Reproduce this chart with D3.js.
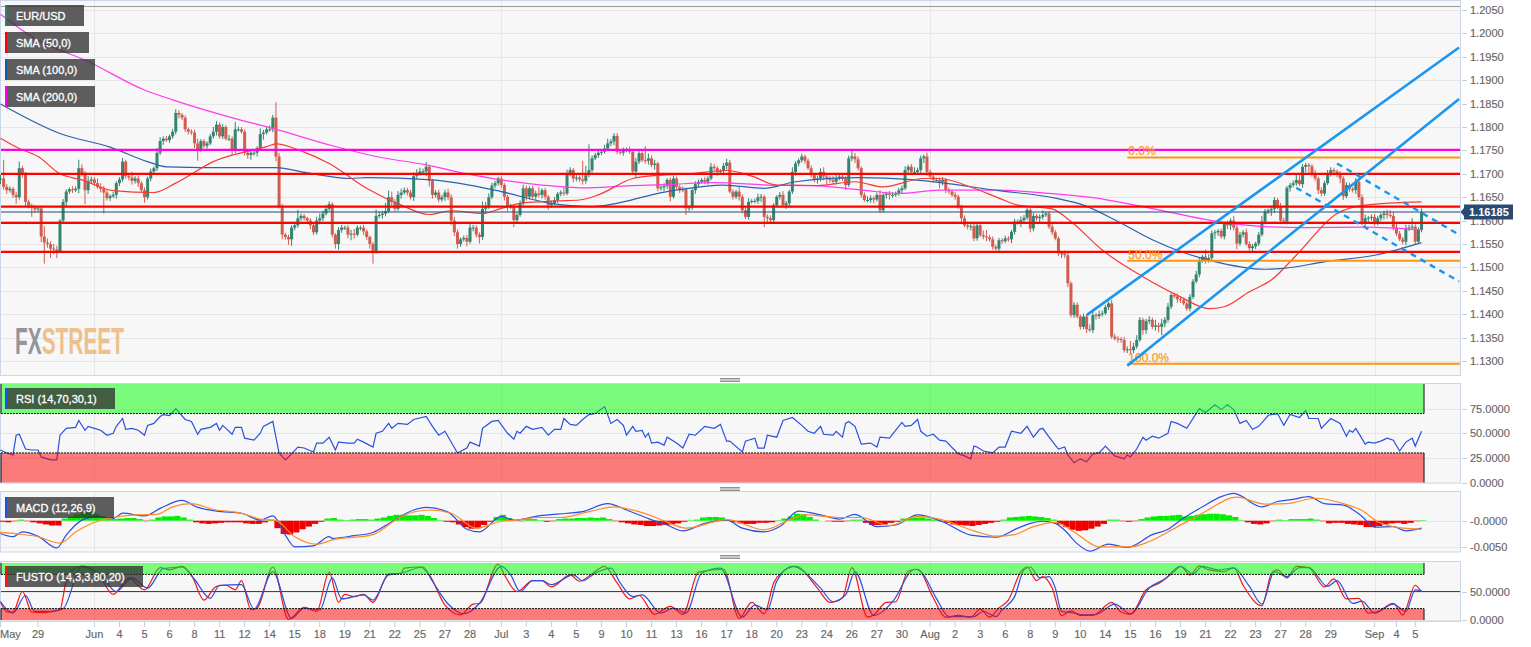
<!DOCTYPE html>
<html><head><meta charset="utf-8">
<style>html,body{margin:0;padding:0;background:#fff;overflow:hidden}svg{display:block}text{font-family:"Liberation Sans",Arial,sans-serif}</style>
<script src="https://cdn.jsdelivr.net/npm/d3@7"></script></head><body><svg id="c" width="1531" height="647"></svg>
<script>
// Closes in pips above 1.1000, one per 4-hour bar
const closePips=[
690,672,665,668,655,650,712,700,640,632,
628,624,626,566,553,550,540,538,535,600,
640,662,667,665,668,712,700,665,685,688,
680,672,668,660,648,652,655,680,688,726,
695,692,685,690,680,665,650,690,705,712,
745,770,775,772,780,790,830,826,820,795,
790,788,765,750,770,760,765,780,790,805,
780,800,775,775,750,795,795,790,745,740,
745,745,755,785,788,795,795,820,737,630,
570,565,560,585,590,605,610,605,600,590,
575,600,605,615,625,635,570,550,580,585,
585,570,572,570,585,585,577,565,550,535,
610,612,615,620,650,640,625,655,660,665,
660,650,695,700,705,705,715,685,655,660,
645,650,660,650,600,575,550,560,563,555,
585,585,570,565,625,630,650,675,680,690,
676,651,630,630,601,612,637,669,651,669,
651,658,655,665,651,633,637,644,657,660,
658,701,708,690,692,688,685,697,708,733,
740,745,747,754,765,769,781,747,745,751,
752,747,705,726,744,729,728,733,719,722,
669,671,674,687,651,690,672,665,667,626,
628,665,678,683,687,683,690,715,712,704,
706,717,724,662,651,662,651,622,608,640,
642,642,650,651,608,605,601,633,651,655,
633,637,662,704,722,729,737,728,712,697,
687,690,704,694,690,687,683,690,694,690,
676,733,737,731,712,655,644,644,648,645,
655,622,655,658,655,655,658,665,669,708,
715,704,704,708,733,737,704,694,687,687,
683,687,665,662,655,651,630,605,590,587,
588,562,590,569,566,564,560,544,540,
558,556,562,560,576,598,596,601,606,623,583,
610,605,608,612,615,587,575,562,530,530,
526,466,398,420,395,373,395,368,366,398,
396,400,402,415,423,352,348,347,345,323,
325,323,331,345,388,366,385,388,373,376,
373,380,388,416,441,438,432,430,423,412,
437,470,485,515,523,516,520,573,575,578,
566,594,590,600,585,551,570,575,550,541,
545,551,570,598,619,622,625,644,630,600,
598,670,676,680,687,678,715,719,716,700,
690,665,658,680,700,708,705,698,690,652,
676,668,665,683,650,594,605,606,608,594,
605,612,615,612,610,585,572,560,555,583,
585,587,555,580,618];
const wickUp=[
8,40,6,5,4,6,14,5,4,5, 4,5,3,4,22,9,6,10,8,3, 6,5,4,6,5,18,8,6,10,6, 5,10,8,6,5,4,6,4,5,8,
4,6,12,5,6,5,6,4,6,4, 10,8,5,6,4,6,8,6,4,5, 4,5,6,10,4,4,4,5,10,8, 5,6,4,8,5,16,6,5,4,3,
5,6,4,12,6,5,8,6,33,8, 6,4,5,5,6,18,5,4,3,5, 6,8,10,6,8,6,4,3,6,6, 4,6,8,10,5,4,6,4,3,4,
14,8,6,18,14,12,6,8,8,6, 5,6,8,10,8,6,10,4,4,5, 6,5,6,8,6,8,6,4,5,6, 8,6,5,5,16,10,8,6,5,4,
5,4,4,6,4,5,6,8,6,4, 5,6,14,4,5,4,6,6,4,5, 12,8,6,4,5,4,40,20,55,6, 5,6,4,8,10,5,6,6,4,5,
4,6,5,8,6,4,30,10,6,8, 4,6,6,4,5,6,4,5,6,4, 5,4,6,5,4,6,5,8,6,5, 4,6,8,6,5,4,10,5,6,8,
4,5,8,6,4,5,6,4,3,6, 8,5,4,10,5,4,6,4,5,6, 4,6,8,10,5,6,8,10,6,4, 5,6,14,8,6,4,5,8,6,4,
5,10,6,4,5,6,4,5,6,8, 4,6,10,5,6,4,8,5,4,5, 5,6,4,5,4,6,5,4,6,8, 5,6,4,5,10,14,5,6,4,5,
4,6,5,4,6,5,8,6,4,5, 6,4,5,10,4,5,6,5,4, 4,6,5,4,6,5,4,6,4,10,12,
5,8,6,5,4,8,6,5,4,6, 6,18,8,10,6,4,5,8,5,12, 6,10,6,8,4,5,6,4,5,4, 6,5,8,6,4,15,8,6,5,4,
5,4,6,5,10,8,6,5,8,6, 5,4,6,12,6,4,5,6,4,8, 6,4,5,6,14,10,6,5,4,5, 8,4,6,5,8,6,5,4,8,5,
6,5,4,8,5,6,8,4,5,6, 5,4,6,8,10,8,12,6,5,8, 6,18,5,6,8,12,10,6,5,4, 5,6,4,5,8,10,5,4,5,6,
10,8,4,5,6,4,10,5,4,6, 4,5,6,10,5,4,5,6,8,6, 5,8,6,4,8,5,4,6,5,18];
const wickDown=[
12,6,8,5,6,14,5,8,10,6, 20,8,6,12,45,8,20,10,15,4, 6,8,5,6,4,10,6,30,8,6, 5,4,8,45,5,6,4,8,6,5,
5,6,8,6,8,6,12,5,6,4, 6,5,8,4,6,5,6,8,5,6, 6,5,10,22,4,5,6,4,5,8, 5,6,4,5,10,6,5,4,6,8,
10,6,8,5,12,4,5,6,10,4, 10,6,12,14,6,5,6,5,4,8, 6,5,8,6,4,5,6,10,12,6, 5,8,12,8,4,6,8,6,10,27,
6,5,8,6,4,10,6,5,8,4, 6,5,8,6,4,5,10,12,8,6, 6,5,8,6,10,8,10,6,5,10, 5,8,6,14,6,8,5,4,6,5,
6,8,10,5,15,6,4,5,8,6, 4,6,5,8,6,10,6,4,6,5, 5,4,6,8,6,5,8,6,4,5, 4,6,5,4,5,6,8,5,4,6,
5,4,6,12,5,4,6,8,5,10, 6,5,8,6,10,4,5,6,4,14, 6,5,8,6,4,5,6,4,5,8, 6,5,8,4,6,5,8,6,5,6,
4,5,6,10,22,10,6,5,4,6, 4,8,6,5,8,6,5,6,4,5, 5,8,6,8,14,6,5,6,4,5, 10,4,6,8,5,6,4,5,6,8,
4,6,5,8,10,6,4,5,8,4, 6,5,4,5,6,10,8,5,6,4, 14,8,6,5,4,6,5,8,4,6, 8,6,5,4,6,8,5,6,4,5,
6,4,5,8,6,5,10,5,4,8, 6,5,8,6,4,5,6,4,6, 10,6,8,5,6,4,6,5,8,4,6,
8,6,5,4,6,5,4,8,6,5, 6,8,6,5,4,10,8,6,5,8, 12,18,8,6,5,4,8,6,4,5, 6,5,4,6,5,8,6,5,12,8,
5,6,8,10,6,12,5,6,4,5, 8,6,5,4,6,5,12,8,6,5, 4,6,8,5,6,4,8,12,18,6, 5,8,6,5,4,6,8,5,10,8,
4,6,5,8,6,4,6,8,6,5, 4,6,10,8,4,6,5,4,6,8, 5,5,6,4,5,6,5,4,6,8, 5,6,4,8,6,5,4,8,6,10,
5,4,6,8,5,4,6,10,5,4, 6,8,6,5,4,8,5,6,8,10, 14,6,5,8,5,6,5,6,12,5];
const priceTicks=[1.13,1.135,1.14,1.145,1.15,1.155,1.16,1.165,1.17,1.175,1.18,1.185,1.19,1.195,1.2,1.205];
const dateLabels=["May","29","Jun","4","5","6","8","11","12","14","15","18","19","21","22","25","27","28","Jul","3","4","5","9","10","11","13","16","17","18","20","23","24","26","27","30","Aug","2","3","6","8","9","10","14","15","16","19","21","22","23","27","28","29","Sep","4","5"];
const dateBars=[0,12,30,38,46,54,62,70,78,86,94,102,110,118,126,134,142,150,160,168,176,184,192,200,208,216,224,232,240,248,256,264,272,280,288,297,305,313,321,329,337,345,353,361,369,377,385,393,401,409,417,425,439,446,452];
const monthBars=[30,160,297,439];
const supportLevels=[1.17,1.163,1.1595,1.1533];
const magentaLevel=1.1751;
const currentPrice=1.16185;
const fibLabels=["0.0%","50.0%","100.0%"];
const fibLevels=[1.1735,1.1514,1.1294];
const fibStartBar=360;
// Moving averages: bar index and pips above 1.1000
const sma200Bars=[0,11,28,46,55,75,87,106,120,136,149,160,173,186,200,213,228,245,261,277,287,300,319,335,353,370,387,404,417,436,454];
const sma200=[1041,989,940,879,858,818,797,760,737,719,700,687,676,670,674,677,681,676,674,664,658,665,665,658,645,623,600,587,585,586,580];
const sma100Bars=[0,19,35,47,53,75,88,98,112,117,138,160,175,189,213,231,244,254,274,292,319,337,346,357,368,377,387,404,410,423,439,454];
const sma100=[849,786,757,726,715,713,713,702,690,692,687,662,638,630,662,676,669,683,692,687,664,648,633,598,559,534,514,496,498,512,526,553];
const sma50Bars=[0,6,12,19,26,36,49,56,68,85,88,96,105,117,128,137,144,154,160,166,178,185,191,202,207,220,232,240,248,261,273,282,295,300,311,319,325,336,342,352,365,377,386,391,399,406,414,427,436,454];
const sma50=[776,754,737,700,687,664,660,680,726,758,764,749,722,669,633,613,621,615,626,637,642,644,655,690,695,700,707,695,676,675,683,672,690,690,669,648,633,625,598,537,480,437,412,416,448,473,526,615,633,640];
// Trend channels: [bar, price] anchors
const solidLines=[[[347,1.1398],[466,1.1970]],[[360,1.1290],[466,1.1860]]];
const dashedLines=[[[427,1.1722],[466,1.1570]],[[414,1.1670],[466,1.1470]]];
// RSI
const rsiBars=[0,2,4,5,6,8,10,12,13,16,18,19,21,24,25,27,28,30,32,34,36,37,39,40,42,44,46,47,49,51,52,54,56,59,61,63,64,67,69,70,71,74,75,77,78,81,83,84,87,89,91,93,95,97,100,101,103,105,107,108,111,113,114,116,119,120,122,124,125,127,130,132,136,138,140,142,146,149,150,153,154,157,159,162,164,165,166,168,170,173,175,177,179,180,182,184,186,188,190,193,195,197,199,200,202,203,205,206,207,208,210,212,213,216,218,220,222,225,228,230,232,233,237,238,241,242,244,245,248,250,253,256,258,260,262,263,266,267,269,270,271,273,275,278,280,281,284,288,289,291,293,294,296,298,300,302,306,308,310,311,312,314,317,319,321,323,326,328,330,332,333,335,338,340,341,343,345,347,349,351,353,356,359,360,361,363,365,366,368,370,373,374,376,379,383,385,388,390,392,394,396,398,400,402,405,406,408,410,412,415,417,418,421,422,425,428,430,431,432,433,436,437,439,441,443,445,447,449,451,452,454];
const rsiValues=[33,30,28,48,49,34,33,33,26,23,23,48,55,56,63,53,57,55,53,48,50,57,65,54,55,53,48,58,60,67,69,68,75,64,62,49,54,56,60,53,58,49,56,56,45,43,50,57,62,30,23,29,36,35,31,40,40,46,33,41,40,40,44,41,36,50,52,60,55,60,59,64,67,57,48,52,30,35,41,37,55,62,63,50,44,52,50,57,54,56,48,54,54,65,59,58,64,69,70,77,60,64,58,48,57,52,53,46,50,40,41,38,46,40,35,49,48,57,55,59,42,42,31,42,45,35,35,48,46,63,66,58,52,50,57,49,48,52,46,60,62,57,39,40,36,46,45,61,57,58,64,52,47,49,43,42,29,27,24,37,36,32,30,36,36,52,50,57,46,54,55,46,34,36,28,20,24,21,29,30,37,27,24,28,26,34,46,43,47,45,50,62,60,55,75,71,79,74,79,74,60,63,54,57,68,69,70,58,69,66,73,65,65,55,65,60,47,53,51,55,39,41,40,42,45,43,32,41,45,37,52];
const rsiTicks=[0,25,50,75];
// MACD in units of 0.0001
const macdBars=[0,4,7,12,18,21,26,31,36,39,46,51,58,63,69,77,83,87,91,94,100,105,106,113,119,125,132,136,143,149,153,160,164,172,181,186,194,200,207,213,218,225,232,237,244,249,255,262,268,273,280,286,293,301,310,318,325,329,333,337,340,344,348,354,360,368,373,377,384,390,394,403,408,413,418,423,429,435,439,445,449,454];
const macdLine=[-24,-30,-21,-29,-51,-27,1,8,4,14,9,23,38,25,18,14,1,9,-27,-49,-47,-30,-33,-28,-22,-2,20,25,16,-16,-21,8,1,9,14,17,32,20,4,-8,-19,-5,1,-14,-21,-11,18,11,3,12,-11,-8,11,-2,-27,-31,-14,-5,-1,-5,-18,-43,-57,-44,-50,-26,-16,1,26,45,51,26,36,40,45,32,29,8,-12,-11,-19,-14];
const signalBars=[0,6,12,19,24,31,36,43,50,55,61,68,77,83,88,94,101,106,119,128,137,144,152,160,165,172,179,188,196,205,212,219,232,244,253,257,268,275,284,293,300,311,318,324,330,337,343,351,361,367,373,378,384,395,404,411,420,429,435,440,448,454];
const signalLine=[-22,-25,-30,-42,-21,-1,6,11,12,26,32,21,14,3,0,-30,-44,-36,-26,8,20,14,-14,-1,1,6,6,17,26,15,0,-14,2,-17,4,11,6,6,-9,8,3,-19,-29,-26,-11,-3,-21,-49,-49,-39,-21,-5,14,44,31,32,42,32,19,-2,-14,-16];
// Histogram, one value per two bars
const macdHist=[-2,-3,-1,2,-1,-3,-5,-7,-9,-9,4,8,12,16,16,13,8,5,3,4,5,5,3,-1,2,6,8,8,9,6,2,-3,-5,-6,-5,-4,-3,-3,-3,-5,-6,-6,-3,2,-14,-25,-26,-22,-16,-11,-6,-2,4,5,2,1,2,3,3,2,4,6,9,11,11,10,10,11,9,5,1,-2,-3,-7,-12,-15,-14,-8,-2,7,
11,5,0,-1,3,3,1,-2,-1,3,4,4,5,5,6,5,6,3,-1,-3,-5,-7,-8,-10,-10,-9,-8,-7,-5,-2,1,2,6,7,7,6,1,-3,-5,-6,-6,-4,-4,-3,1,4,8,13,12,7,2,0,-1,-2,-2,-1,2,2,-4,-8,-8,-7,-4,-2,4,5,6,6,4,2,-1,-4,-7,-8,-9,-10,-8,-6,-4,-2,
2,6,7,8,9,8,7,5,2,-7,-12,-17,-19,-18,-15,-11,-6,2,2,-1,-2,-1,3,6,8,9,9,10,11,8,9,11,12,13,13,12,10,7,1,-3,-6,-7,-5,-1,2,1,3,3,3,4,2,-1,-5,-4,-4,-6,-7,-8,-12,-12,-10,-7,-5,-4,-6,-4,-1,1];
const macdTicks=[0,-50];
// Stochastic
const stoKBars=[0,2,4,7,10,14,19,21,25,31,36,41,46,51,54,58,61,65,69,72,75,77,80,82,87,92,97,101,105,108,110,113,116,119,124,128,129,134,137,142,147,151,153,159,161,165,170,173,176,182,185,189,193,197,201,204,209,214,218,223,231,236,240,244,247,250,254,261,265,269,272,277,279,283,286,290,293,298,302,306,310,313,316,319,322,326,328,331,333,336,339,342,345,349,355,358,361,366,370,375,377,380,383,386,391,394,397,403,406,408,411,414,418,423,426,430,434,437,440,445,448,452,454];
const stoK=[32,14,14,50,14,13,18,68,94,82,45,74,53,92,88,94,79,35,59,61,53,69,18,21,93,1,22,15,84,31,45,41,45,31,81,82,91,93,79,26,9,28,29,98,79,50,69,69,58,79,68,81,94,65,37,43,10,24,10,84,89,3,31,11,65,85,94,56,31,39,92,5,9,31,32,86,89,39,5,8,5,19,5,21,35,85,93,69,76,56,8,16,8,8,31,14,10,53,64,85,94,79,95,88,85,92,61,25,81,88,74,94,92,58,72,37,38,12,15,29,9,61,49];
const stoDBars=[0,4,8,11,16,20,26,32,37,42,47,52,58,62,67,70,77,81,87,93,97,102,106,109,116,119,124,128,135,138,143,148,153,160,163,166,170,173,176,183,186,190,195,198,202,205,211,215,219,224,230,237,241,245,248,253,262,266,270,273,279,285,292,294,299,303,311,314,318,320,324,327,329,332,335,337,339,342,346,350,356,361,367,372,377,381,384,389,394,399,403,407,411,415,418,424,427,432,435,439,445,449,452,454];
const stoD=[32,12,43,15,15,20,95,79,50,74,56,90,93,71,38,61,62,19,85,3,21,18,74,37,44,35,79,82,93,68,28,11,29,94,79,50,69,69,62,79,69,82,91,65,41,44,12,21,12,82,91,5,26,18,68,94,56,32,44,85,8,32,89,85,38,6,6,15,6,18,41,88,93,74,76,56,15,13,9,10,28,11,56,72,94,81,94,88,91,59,28,85,76,92,92,59,69,29,33,12,28,15,53,51];
const stoTicks=[0,50];

const svg=d3.select("#c");
const plotR=1460, step=3.13, lastBar=closePips.length-1;
const x=d3.scaleLinear().domain([0,lastBar]).range([0.5,0.5+step*lastBar]);
const zoneEnd=x(lastBar)+2.5;
const pip=p=>1.1+p/10000;
const yP=d3.scaleLinear().domain([1.13,1.205]).range([361,10]);
const yR=d3.scaleLinear().domain([0,100]).range([482.5,384]);
const yM=d3.scaleLinear().domain([-50,0]).range([547.4,520.7]);
const yS=d3.scaleLinear().domain([0,100]).range([620,563]);
const panels=[[1,375],[384,482.5],[492,551.5],[562,621]];
const GRID="#e6e6e6",FRAME="#ccd6eb",AX="#666";
panels.forEach(([a,b])=>{
  svg.append("rect").attr("x",0.5).attr("y",a-.5).attr("width",plotR).attr("height",b-a+1).attr("fill","#f7f7f7").attr("stroke",FRAME);
});
function hgrid(vals,sc,fmt){
  vals.forEach(v=>{
    const y=Math.round(sc(v))+.5;
    svg.append("line").attr("x1",1).attr("x2",plotR).attr("y1",y).attr("y2",y).attr("stroke",GRID);
    svg.append("line").attr("x1",plotR+2).attr("x2",plotR+7).attr("y1",y).attr("y2",y).attr("stroke","#c5cdd8");
    svg.append("text").attr("x",plotR+10).attr("y",sc(v)+4).attr("fill",AX).attr("font-size",11).attr("stroke",AX).attr("stroke-width",.15).text(fmt(v));
  });
}
hgrid(priceTicks,yP,d3.format(".4f"));
hgrid(rsiTicks,yR,d3.format(".4f"));
hgrid(macdTicks,yM,v=>"-"+d3.format(".4f")(Math.abs(v)/10000));
hgrid(stoTicks,yS,d3.format(".4f"));
monthBars.forEach(b=>panels.forEach(([a,c])=>{
  svg.append("line").attr("x1",Math.round(x(b))+.5).attr("x2",Math.round(x(b))+.5).attr("y1",a).attr("y2",c).attr("stroke",GRID);
}));
svg.append("line").attr("x1",1).attr("x2",plotR).attr("y1",6.5).attr("y2",6.5).attr("stroke","#9a9a9a");

// Main panel: candles
const green="#33856f",red="#d25c4e";
closePips.forEach((c,i)=>{
  const o=i?closePips[i-1]:c, hi=Math.max(o,c)+wickUp[i], lo=Math.min(o,c)-wickDown[i];
  const col=c>=o?green:red, px=x(i);
  svg.append("line").attr("x1",px).attr("x2",px).attr("y1",yP(pip(hi))).attr("y2",yP(pip(lo))).attr("stroke",col).attr("stroke-width",1);
  const top=yP(pip(Math.max(o,c))),bot=yP(pip(Math.min(o,c)));
  svg.append("rect").attr("x",px-1.5).attr("width",3).attr("y",top).attr("height",Math.max(1,bot-top)).attr("fill",col);
});
function path(bars,vals,sc,col,w,conv,curve){
  const l=d3.line().x((d,i)=>x(bars[i])).y(d=>sc(conv?conv(d):d)).curve(curve||d3.curveMonotoneX);
  svg.append("path").attr("d",l(vals)).attr("fill","none").attr("stroke",col).attr("stroke-width",w);
}
path(sma200Bars,sma200,yP,"#ff3cf0",1.2,pip);
path(sma100Bars,sma100,yP,"#2a62b0",1.2,pip);
path(sma50Bars,sma50,yP,"#f83a34",1.2,pip);

// Levels
supportLevels.forEach(v=>svg.append("line").attr("x1",1).attr("x2",plotR).attr("y1",yP(v)).attr("y2",yP(v)).attr("stroke","#ff0000").attr("stroke-width",2.3));
svg.append("line").attr("x1",1).attr("x2",plotR).attr("y1",yP(magentaLevel)).attr("y2",yP(magentaLevel)).attr("stroke","#ff00e6").attr("stroke-width",2.3);
svg.append("line").attr("x1",1).attr("x2",plotR).attr("y1",yP(currentPrice)).attr("y2",yP(currentPrice)).attr("stroke","#2b4a70").attr("stroke-width",1.1);
fibLevels.forEach((v,i)=>{
  svg.append("line").attr("x1",x(fibStartBar)).attr("x2",plotR).attr("y1",yP(v)).attr("y2",yP(v)).attr("stroke","#ff9412").attr("stroke-width",2);
  svg.append("text").attr("x",x(fibStartBar)+1).attr("y",yP(v)-2).attr("fill","#ff9412").attr("font-size",12).attr("stroke","#ff9412").attr("stroke-width",.2).text(fibLabels[i]);
});
// Channels, clipped to plot
const defs=svg.append("defs");
defs.append("clipPath").attr("id","mainClip").append("rect").attr("x",0).attr("y",1).attr("width",plotR).attr("height",374);
const lg=svg.append("g").attr("clip-path","url(#mainClip)");
solidLines.forEach(s=>lg.append("line").attr("x1",x(s[0][0])).attr("y1",yP(s[0][1])).attr("x2",x(s[1][0])).attr("y2",yP(s[1][1])).attr("stroke","#1a96f0").attr("stroke-width",2.6));
dashedLines.forEach(s=>lg.append("line").attr("x1",x(s[0][0])).attr("y1",yP(s[0][1])).attr("x2",x(s[1][0])).attr("y2",yP(s[1][1])).attr("stroke","#1a96f0").attr("stroke-width",2.4).attr("stroke-dasharray","6,5"));

// RSI lines then zones
path(rsiBars,rsiValues,yR,"#2a50e0",1.2,null,d3.curveLinear);
function zone(sc,a,b,col){
  svg.append("rect").attr("x",1).attr("width",zoneEnd-1).attr("y",sc(b)).attr("height",sc(a)-sc(b)).attr("fill",col);
}
function zoneEdges(sc,hi,lo,top,bot){
  [hi,lo].forEach(v=>svg.append("line").attr("x1",1).attr("x2",zoneEnd).attr("y1",sc(v)).attr("y2",sc(v)).attr("stroke","#111").attr("stroke-dasharray","2,1"));
  [[top,hi],[lo,bot]].forEach(([a,b])=>{
    svg.append("line").attr("x1",zoneEnd).attr("x2",zoneEnd).attr("y1",sc(a)).attr("y2",sc(b)).attr("stroke","#111");
    svg.append("line").attr("x1",1).attr("x2",1).attr("y1",sc(a)).attr("y2",sc(b)).attr("stroke","#111");
  });
}
zone(yR,70,100,"rgba(0,255,0,.5)");zone(yR,0,30,"rgba(255,0,0,.5)");zoneEdges(yR,70,30,100,0);

// MACD
macdHist.forEach((v,i)=>{
  const b=i*2+.5;
  const a=yM(0),e=yM(v);
  svg.append("rect").attr("x",x(b)-3.13).attr("width",6.26).attr("y",Math.min(a,e)).attr("height",Math.abs(a-e)).attr("fill",v>=0?"#00ee00":"#ee0000");
});
path(macdBars,macdLine,yM,"#2a50e0",1.2);
path(signalBars,signalLine,yM,"#ff8a28",1.2);

// Stochastic
svg.append("line").attr("x1",1).attr("x2",plotR).attr("y1",yS(50)).attr("y2",yS(50)).attr("stroke","#444");
path(stoKBars,stoK,yS,"#f01818",1.2);
path(stoDBars,stoD,yS,"#2a50e0",1.2);
zone(yS,80,100,"rgba(0,255,0,.5)");zone(yS,0,20,"rgba(255,0,0,.5)");zoneEdges(yS,80,20,100,0);

// Date axis
dateLabels.forEach((t,i)=>{
  const px=x(dateBars[i]);
  svg.append("line").attr("x1",px).attr("x2",px).attr("y1",622).attr("y2",627).attr("stroke","#c5cdd8");
  svg.append("text").attr("x",i===0?0:px).attr("y",638).attr("text-anchor",i===0?"start":"middle").attr("fill",AX).attr("font-size",11).attr("stroke",AX).attr("stroke-width",.15).text(t);
});
// Legends
const legends=[["EUR/USD",5,79,"#2f7f6c"],["SMA (50,0)",32,84,"#ff0000"],["SMA (100,0)",59,90,"#1558a8"],["SMA (200,0)",86,90,"#ff00e6"],["RSI (14,70,30,1)",388,110,"#1a4ff0"],["MACD (12,26,9)",497,109,"#1a4ff0"],["FUSTO (14,3,3,80,20)",566,138,"#ff1010"]];
legends.forEach(([t,y,w,c])=>{
  svg.append("rect").attr("x",5).attr("y",y).attr("width",w).attr("height",21).attr("fill","rgba(50,50,50,.78)");
  svg.append("rect").attr("x",5).attr("y",y).attr("width",2).attr("height",21).attr("fill",c);
  svg.append("text").attr("x",16).attr("y",y+14.5).attr("fill","#fff").attr("font-size",11).attr("stroke","#fff").attr("stroke-width",.3).text(t);
});
// Logo
const logo=svg.append("text").attr("x",15).attr("y",354).attr("font-family","Liberation Sans Narrow, Liberation Sans, sans-serif").attr("font-weight","700").attr("font-size",36).attr("textLength",109).attr("lengthAdjust","spacingAndGlyphs");
logo.append("tspan").attr("fill","#92959c").text("FX");
logo.append("tspan").attr("fill","#edc08c").text("STREET");
// Handles
[378.5,487.5,555.5].forEach(y=>[0,1.5,3].forEach(d=>svg.append("line").attr("x1",720).attr("x2",740).attr("y1",y+d).attr("y2",y+d).attr("stroke","#777").attr("stroke-width",.8)));
// Current price label
const py=yP(currentPrice);
svg.append("path").attr("d",d3.line()([[1460.5,py],[1464,py-4],[1464,py-7.5],[1513,py-7.5],[1513,py+7.5],[1464,py+7.5],[1464,py+4]])+"Z").attr("fill","#2b4a70");
svg.append("text").attr("x",1469).attr("y",py+4).attr("fill","#fff").attr("font-size",11).attr("font-weight","700").text(d3.format(".5f")(currentPrice));
</script></body></html>
